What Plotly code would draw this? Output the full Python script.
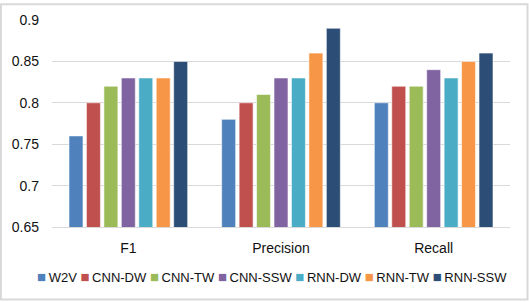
import plotly.graph_objects as go

categories = ["F1", "Precision", "Recall"]
series_names = ["W2V", "CNN-DW", "CNN-TW", "CNN-SSW", "RNN-DW", "RNN-TW", "RNN-SSW"]
series_colors = ["#4F81BD", "#C0504D", "#9BBB59", "#8064A2", "#4BACC6", "#F79646", "#2C4D75"]
values_w2v = [0.76, 0.78, 0.80]
values_cnn_dw = [0.80, 0.80, 0.82]
values_cnn_tw = [0.82, 0.81, 0.82]
values_cnn_ssw = [0.83, 0.83, 0.84]
values_rnn_dw = [0.83, 0.83, 0.83]
values_rnn_tw = [0.83, 0.86, 0.85]
values_rnn_ssw = [0.85, 0.89, 0.86]
series_values = [values_w2v, values_cnn_dw, values_cnn_tw, values_cnn_ssw,
                 values_rnn_dw, values_rnn_tw, values_rnn_ssw]
y_ticks = [0.65, 0.7, 0.75, 0.8, 0.85, 0.9]

W, H = 529, 302
ML, MR, MT, MB = 52, 19, 17, 75
PW, PH = W - ML - MR, H - MT - MB

def px_x(p):
    return (p - ML) / PW

def px_y(p):
    return (H - MB - p) / PH

fig = go.Figure()
for name, color, vals in zip(series_names, series_colors, series_values):
    fig.add_trace(go.Bar(
        name=name, x=categories, y=vals,
        marker=dict(color=color, line=dict(color="rgba(255,255,255,0.55)", width=1)),
        showlegend=False,
    ))

legend_text = " ".join(
    f"<span style='color:{c};font-size:15px'>■</span>\u2009{n}" for n, c in zip(series_names, series_colors)
)

fig.update_layout(
    width=W, height=H,
    margin=dict(l=ML, r=MR, t=MT, b=MB),
    paper_bgcolor="white", plot_bgcolor="white",
    barmode="group", bargap=0.2, bargroupgap=0.2,
    font=dict(family="Liberation Sans, Arial, sans-serif", size=14, color="#111111"),
    xaxis=dict(showline=True, linecolor="#D9D9D9", linewidth=1, ticks="",
               tickfont=dict(size=14), ticklabelstandoff=8, fixedrange=True),
    yaxis=dict(range=[0.65, 0.9], tickvals=y_ticks, ticktext=[f"{v:g}" for v in y_ticks],
               showgrid=True, gridcolor="#D9D9D9", gridwidth=1, zeroline=False,
               ticks="", tickfont=dict(size=14), ticklabelstandoff=12, fixedrange=True),
    annotations=[dict(
        text=legend_text, xref="paper", yref="paper",
        x=px_x(272), y=px_y(277), xanchor="center", yanchor="middle",
        showarrow=False, font=dict(size=13, color="#111111"),
    )],
    shapes=[dict(type="rect", xref="paper", yref="paper",
                 x0=px_x(1), x1=px_x(527.5), y0=px_y(300.5), y1=px_y(1),
                 line=dict(color="#D9D9D9", width=2), fillcolor="rgba(0,0,0,0)", layer="below")],
)

fig.write_html("out.html", config={"displayModeBar": False},
               post_script="document.body.style.margin='0';document.body.style.overflow='hidden';")
